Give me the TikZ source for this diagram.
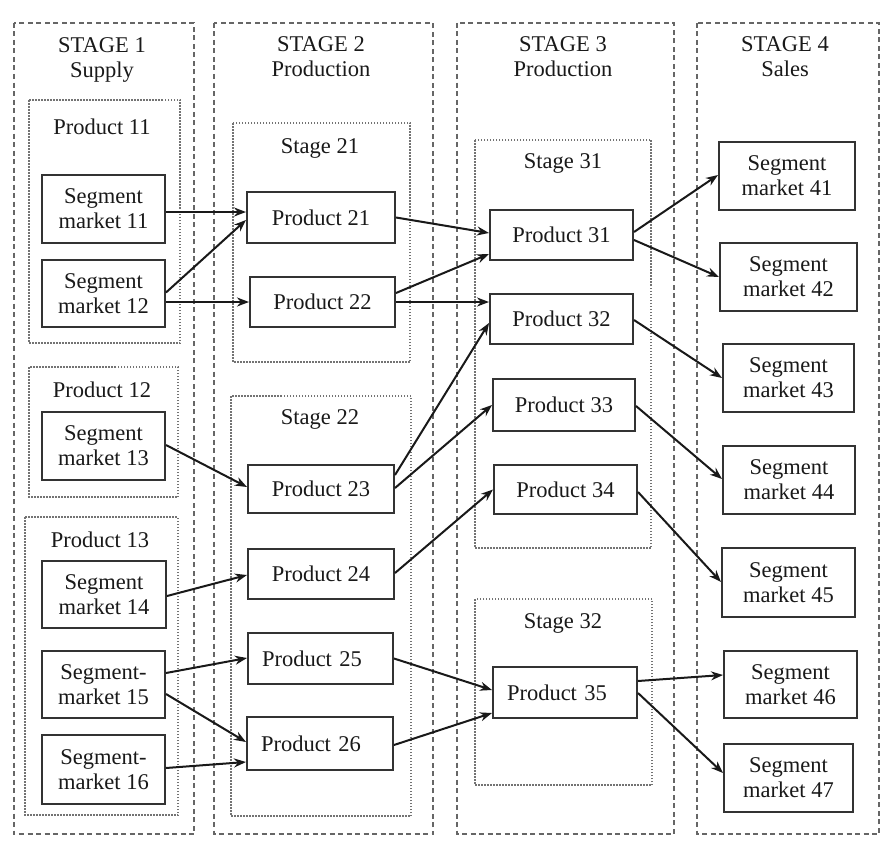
\documentclass[tikz,border=0pt]{standalone}
\usepackage{fontspec}
\setmainfont{Liberation Serif}
\usetikzlibrary{arrows.meta}
\begin{document}
\begin{tikzpicture}[x=1pt,y=-1pt,
  every node/.style={font=\fontsize{22.5}{25}\selectfont, text=black!90},
  stagecol/.style={draw=black!60, line width=1.8pt, dash pattern=on 5pt off 3.5pt},
  group/.style={draw=black!55, line width=1.8pt, dash pattern=on 1.5pt off 1.5pt},
  box/.style={draw=black!80, line width=2pt, fill=white, align=center, inner sep=0pt},
  lbox/.style={box, align=left, inner xsep=14pt},
  title/.style={align=center, inner sep=0pt},
  arr/.style={line width=2pt, black!90, -{Stealth[length=12pt,width=9pt]}}
]
\useasboundingbox[fill=white] (0,0) rectangle (886,851);

% stage columns
\draw[stagecol] (14,23) rectangle (194,834);
\draw[stagecol] (214,23) rectangle (433,834);
\draw[stagecol] (457,23) rectangle (674,834);
\draw[stagecol] (697,23) rectangle (879,834);

\node[title] (t1) at (102,60) {STAGE 1\\Supply};
\node[title] (t2) at (321,57) {STAGE 2\\Production};
\node[title] (t3) at (563,57) {STAGE 3\\Production};
\node[title] (t4) at (785,57) {STAGE 4\\Sales};

% dotted groups
\draw[group] (29,100) rectangle (180,343);
\draw[group] (29,367) rectangle (178,497);
\draw[group] (25,517) rectangle (178,815);
\draw[group] (233,123) rectangle (410,362);
\draw[group] (231,396) rectangle (411,816);
\draw[group] (475,140) rectangle (651,548);
\draw[group] (475,599) rectangle (652,785);

\node[title] (g11) at (102,127) {Product 11};
\node[title] (g12) at (102,390) {Product 12};
\node[title] (g13) at (100,540) {Product 13};
\node[title] (g21) at (320,148) {Stage 21};
\node[title] (g22) at (320,419) {Stage 22};
\node[title] (g31) at (563,163) {Stage 31};
\node[title] (g32) at (563,623) {Stage 32};

% stage 1 boxes
\node[box, minimum width=123pt, minimum height=68pt] (sm11) at (103.5,209) {Segment\\market 11};
\node[box, minimum width=123pt, minimum height=67pt] (sm12) at (103.5,293.5) {Segment\\market 12};
\node[box, minimum width=123pt, minimum height=68pt] (sm13) at (103.5,446) {Segment\\market 13};
\node[box, minimum width=124pt, minimum height=67pt] (sm14) at (104,594.5) {Segment\\market 14};
\node[box, minimum width=123pt, minimum height=67pt] (sm15) at (103.5,684.5) {Segment-\\market 15};
\node[box, minimum width=123pt, minimum height=69pt] (sm16) at (103.5,769.5) {Segment-\\market 16};

% stage 2 boxes
\node[box, minimum width=148pt, minimum height=51pt] (p21) at (321,217.5) {Product 21};
\node[box, minimum width=145pt, minimum height=50pt] (p22) at (322.5,302) {Product 22};
\node[box, minimum width=146pt, minimum height=48pt] (p23) at (321,489) {Product 23};
\node[box, minimum width=146pt, minimum height=50pt] (p24) at (321,574) {Product 24};
\node[lbox, text width=117pt, minimum height=51pt] (p25) at (320.5,658.5) {Product 25};
\node[lbox, text width=118pt, minimum height=53pt] (p26) at (320,743.5) {Product 26};

% stage 3 boxes
\node[box, minimum width=143pt, minimum height=50pt] (p31) at (561.5,235) {Product 31};
\node[box, minimum width=143pt, minimum height=50pt] (p32) at (561.5,319) {Product 32};
\node[box, minimum width=142pt, minimum height=52pt] (p33) at (564,405) {Product 33};
\node[box, minimum width=143pt, minimum height=49pt] (p34) at (565.5,489.5) {Product 34};
\node[lbox, text width=116pt, minimum height=51pt] (p35) at (565,692.5) {Product 35};

% stage 4 boxes
\node[box, minimum width=136pt, minimum height=68pt] (sm41) at (787,176) {Segment\\market 41};
\node[box, minimum width=137pt, minimum height=68pt] (sm42) at (788.5,277) {Segment\\market 42};
\node[box, minimum width=131pt, minimum height=68pt] (sm43) at (788.5,378) {Segment\\market 43};
\node[box, minimum width=132pt, minimum height=68pt] (sm44) at (789,480) {Segment\\market 44};
\node[box, minimum width=133pt, minimum height=69pt] (sm45) at (788.5,582.5) {Segment\\market 45};
\node[box, minimum width=133pt, minimum height=67pt] (sm46) at (790.5,684.5) {Segment\\market 46};
\node[box, minimum width=129pt, minimum height=68pt] (sm47) at (788.5,778) {Segment\\market 47};

% arrows stage 1 -> 2
\draw[arr] ([yshift=-3pt]sm11.east) -- ([yshift=5.5pt]p21.west);
\draw[arr] ([yshift=1pt]sm12.east) -- ([yshift=-2.5pt]p21.west);
\draw[arr] ([yshift=-8.5pt]sm12.east) -- (p22.west);
\draw[arr] ([yshift=1pt]sm13.east) -- ([yshift=2pt]p23.west);
\draw[arr] ([yshift=-1.5pt]sm14.east) -- ([yshift=-1pt]p24.west);
\draw[arr] ([yshift=11.5pt]sm15.east) -- ([yshift=0.5pt]p25.west);
\draw[arr] ([yshift=-9.5pt]sm15.east) -- ([yshift=1.5pt]p26.west);
\draw[arr] ([yshift=1.5pt]sm16.east) -- ([yshift=-18.5pt]p26.west);

% arrows stage 2 -> 3
\draw[arr] (p21.east) -- ([yshift=2pt]p31.west);
\draw[arr] ([yshift=9pt]p22.east) -- ([yshift=-19pt]p31.west);
\draw[arr] (p22.east) -- ([yshift=17pt]p32.west);
\draw[arr] ([yshift=14pt]p23.east) -- ([yshift=-4pt]p32.west);
\draw[arr] ([yshift=1pt]p23.east) -- (p33.west);
\draw[arr] ([yshift=1pt]p24.east) -- (p34.west);
\draw[arr] (p25.east) -- ([yshift=2.5pt]p35.west);
\draw[arr] ([yshift=-1.5pt]p26.east) -- ([yshift=-20.5pt]p35.west);

% arrows stage 3 -> 4
\draw[arr] ([yshift=3pt]p31.east) -- ([yshift=1pt]sm41.west);
\draw[arr] ([yshift=-5pt]p31.east) -- (sm42.west);
\draw[arr] ([yshift=-1pt]p32.east) -- (sm43.west);
\draw[arr] ([yshift=-1pt]p33.east) -- ([yshift=1pt]sm44.west);
\draw[arr] ([yshift=-2.5pt]p34.east) -- ([yshift=0.5pt]sm45.west);
\draw[arr] ([yshift=11.5pt]p35.east) -- ([yshift=9.5pt]sm46.west);
\draw[arr] ([yshift=-0.5pt]p35.east) -- ([yshift=5pt]sm47.west);
\end{tikzpicture}
\end{document}
